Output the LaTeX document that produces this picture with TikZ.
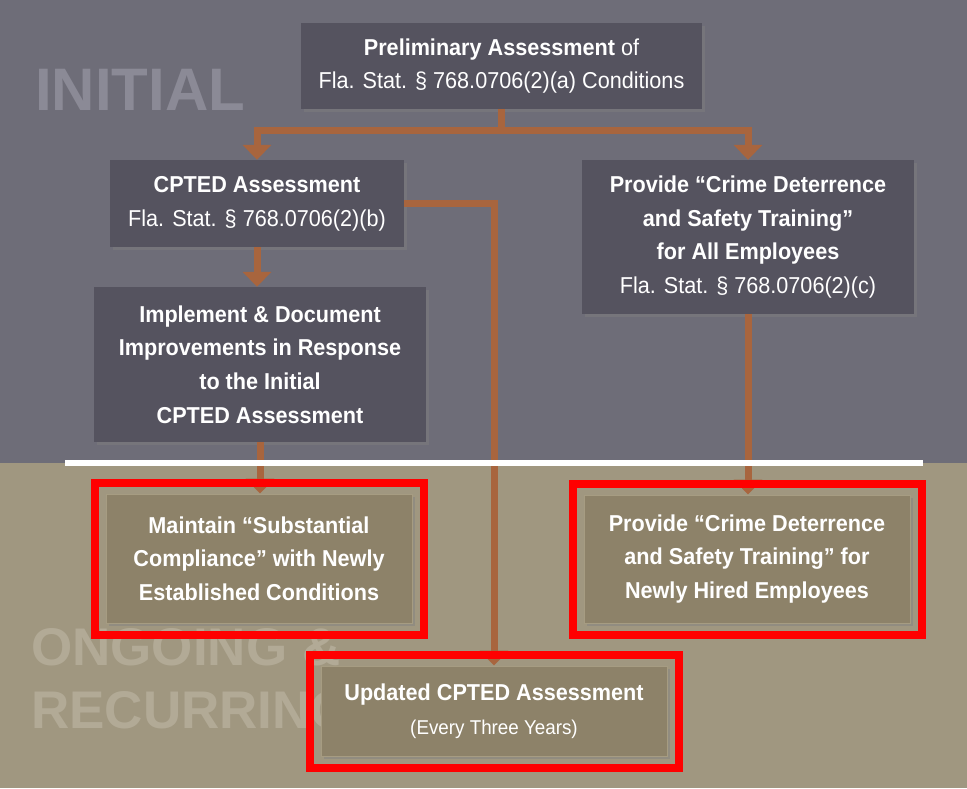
\documentclass[tikz,border=0pt]{standalone}
\usepackage{fontspec}
\setmainfont{Liberation Sans}
\newfontfamily\boxfont[FakeStretch=0.94]{Liberation Sans}
\usepackage{tikz}
\usetikzlibrary{arrows.meta, shadows, fit}

\definecolor{topgray}{RGB}{110,109,120}
\definecolor{bottan}{RGB}{160,151,128}
\definecolor{darkbox}{RGB}{85,83,95}
\definecolor{tanbox}{RGB}{141,130,105}
\definecolor{tanedge}{RGB}{166,156,130}
\definecolor{conncol}{RGB}{168,101,62}
\definecolor{initcol}{RGB}{139,138,150}
\definecolor{ongocol}{RGB}{178,170,150}
\definecolor{redline}{RGB}{255,0,0}

\begin{document}
\begin{tikzpicture}[x=1pt, y=-1pt,
    darkstep/.style={rectangle, fill=darkbox, text=white, align=center, inner sep=0pt,
        font=\boxfont\fontsize{23}{33.7}\selectfont,
        drop shadow={shadow xshift=3pt, shadow yshift=-3pt, opacity=0.45}},
    tanstep/.style={darkstep, fill=tanbox, draw=tanedge, line width=1pt,
        font=\boxfont\bfseries\fontsize{23}{33.7}\selectfont},
    conn/.style={draw=conncol, line width=7pt, -{Triangle[width=28pt,length=15pt]}},
    redbox/.style={draw=redline, line width=8pt, inner sep=11pt},
    bigword/.style={anchor=base west, inner sep=0pt, font=\bfseries\fontsize{60}{60}\selectfont}]
        \useasboundingbox (0,0) rectangle (967,788);

        % two bands
        \fill[topgray] (0,0) rectangle (967,463);
        \fill[bottan] (0,463) rectangle (967,788);

        \node[bigword, text=initcol] (initial) at (35,110) {INITIAL};
        \node[bigword, text=ongocol, font=\bfseries\fontsize{53}{63}\selectfont] (ongoing) at (31,665) {ONGOING \&};
        \node[bigword, text=ongocol, font=\bfseries\fontsize{53}{63}\selectfont] (recurring) at (31,728) {RECURRING};

        % initial steps
        \node[darkstep, minimum width=401pt, minimum height=86pt] (prelim) at (501.5,66)
            {\textbf{Preliminary Assessment} of\\Fla. Stat. § 768.0706(2)(a) Conditions};
        \node[darkstep, minimum width=294pt, minimum height=87pt] (cpted) at (257,203.5)
            {\textbf{CPTED Assessment}\\Fla. Stat. § 768.0706(2)(b)};
        \node[darkstep, minimum width=332pt, minimum height=154pt] (trainall) at (748,237)
            {\textbf{Provide “Crime Deterrence}\\\textbf{and Safety Training”}\\\textbf{for All Employees}\\Fla. Stat. § 768.0706(2)(c)};
        \node[darkstep, minimum width=332pt, minimum height=155pt] (implement) at (260,364.5)
            {\textbf{Implement \& Document}\\\textbf{Improvements in Response}\\\textbf{to the Initial}\\\textbf{CPTED Assessment}};

        % ongoing steps
        \node[tanstep, minimum width=306pt, minimum height=129pt] (maintain) at (259,558.5)
            {Maintain “Substantial\\Compliance” with Newly\\Established Conditions};
        \node[tanstep, minimum width=326pt, minimum height=128pt] (trainnew) at (747,559)
            {Provide “Crime Deterrence\\and Safety Training” for\\Newly Hired Employees};
        \node[tanstep, minimum width=346pt, minimum height=90pt] (updated) at (494,711)
            {Updated CPTED Assessment\\{\mdseries\fontsize{20}{30}\selectfont (Every Three Years)}};

        % connectors
        \draw[conn] (prelim.south) -- ++(0,21) -| (cpted.north);
        \draw[conn] (prelim.south) -- ++(0,21) -| (trainall.north);
        \draw[conn] (cpted.south) -- (cpted.south |- implement.north);
        \draw[conn] (cpted.east) -| (updated.north);
        \draw[conn] (implement.south) -- (implement.south |- maintain.north);
        \draw[conn] (trainall.south) -- (trainall.south |- trainnew.north);

        \draw[white, line width=6pt] (65,463) -- (923,463);

        % red frames
        \node[redbox, fit=(maintain)] (maintainframe) {};
        \node[redbox, fit=(trainnew)] (trainnewframe) {};
        \node[redbox, fit=(updated)] (updatedframe) {};
\end{tikzpicture}
\end{document}
